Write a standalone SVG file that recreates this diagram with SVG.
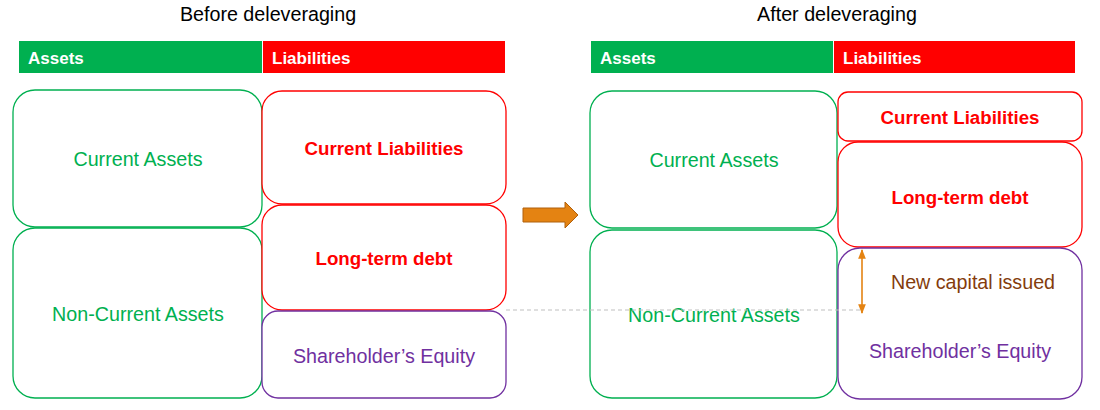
<svg xmlns="http://www.w3.org/2000/svg" width="1100" height="410" viewBox="0 0 1100 410">
<style>
  text { font-family: "Liberation Sans", Arial, sans-serif; }
  .title { font-size: 19.7px; fill: #000; text-anchor: middle; }
  .hdr { font-size: 17px; font-weight: bold; fill: #fff; }
  .box { fill: #fff; stroke-width: 1.3; }
  .g { stroke: #00B050; }
  .r { stroke: #FF0000; }
  .p { stroke: #7030A0; }
  .lbl { font-size: 19.7px; text-anchor: middle; }
  .tg { fill: #00B050; }
  .tr { fill: #FF0000; font-weight: bold; font-size: 18.7px; }
  .tp { fill: #7030A0; }
  .tb { fill: #843C0C; }
</style>
<defs>
  <marker id="ah" viewBox="0 0 10 10" refX="9" refY="5" markerWidth="6" markerHeight="6" orient="auto-start-reverse">
    <path d="M0,1 L10,5 L0,9 z" fill="#E48312"/>
  </marker>
</defs>
<rect width="1100" height="410" fill="#fff"/>

<text class="title" x="268" y="21">Before deleveraging</text>
<text class="title" x="837" y="21">After deleveraging</text>

<g id="hdr-left">
  <rect x="19" y="41" width="243" height="32" fill="#00B050"/>
  <rect x="263" y="41" width="242" height="32" fill="#FF0000"/>
  <text class="hdr" x="28" y="64">Assets</text>
  <text class="hdr" x="272" y="64">Liabilities</text>
</g>
<g id="hdr-right">
  <rect x="591" y="41" width="242" height="32" fill="#00B050"/>
  <rect x="834" y="41" width="241" height="32" fill="#FF0000"/>
  <text class="hdr" x="600" y="64">Assets</text>
  <text class="hdr" x="843" y="64">Liabilities</text>
</g>

<g id="left-current-assets">
  <rect class="box g" x="13" y="90" width="249" height="137" rx="22"/>
  <text class="lbl tg" x="138" y="166">Current Assets</text>
</g>
<g id="left-noncurrent-assets">
  <rect class="box g" x="13" y="228" width="249" height="170" rx="22"/>
  <text class="lbl tg" x="138" y="321">Non-Current Assets</text>
</g>
<g id="left-current-liabilities">
  <rect class="box r" x="262" y="91" width="244" height="113" rx="20"/>
  <text class="lbl tr" x="384" y="155">Current Liabilities</text>
</g>
<g id="left-longterm-debt">
  <rect class="box r" x="262" y="205" width="244" height="105" rx="20"/>
  <text class="lbl tr" x="384" y="265">Long-term debt</text>
</g>
<g id="left-equity">
  <rect class="box p" x="262" y="311" width="244" height="87" rx="16"/>
  <text class="lbl tp" x="384" y="363">Shareholder’s Equity</text>
</g>

<g id="transition-arrow">
  <path d="M523,208 L565,208 L565,202 L578,215 L565,228 L565,222 L523,222 z" fill="#E48312" stroke="#B0600C" stroke-width="1"/>
</g>

<g id="right-current-assets">
  <rect class="box g" x="590" y="91" width="247" height="137" rx="22"/>
  <text class="lbl tg" x="714" y="167">Current Assets</text>
</g>
<g id="right-noncurrent-assets">
  <rect class="box g" x="590" y="230" width="247" height="168" rx="22"/>
  <text class="lbl tg" x="714" y="322">Non-Current Assets</text>
</g>
<g id="right-current-liabilities">
  <rect class="box r" x="838" y="92" width="244" height="49" rx="10"/>
  <text class="lbl tr" x="960" y="124">Current Liabilities</text>
</g>
<g id="right-longterm-debt">
  <rect class="box r" x="838" y="142" width="244" height="105" rx="20"/>
  <text class="lbl tr" x="960" y="204">Long-term debt</text>
</g>
<g id="right-equity">
  <rect class="box p" x="838" y="248" width="244" height="151" rx="22"/>
  <text class="lbl tp" x="960" y="358">Shareholder’s Equity</text>
</g>

<g id="connectors">
  <line x1="506" y1="310" x2="862" y2="310" stroke="#BFBFBF" stroke-width="1.2" stroke-dasharray="4 3"/>
  <line x1="862" y1="250" x2="862" y2="313" stroke="#E48312" stroke-width="1.6" marker-start="url(#ah)" marker-end="url(#ah)"/>
</g>

<g id="new-capital-label">
  <text class="lbl tb" x="973" y="289">New capital issued</text>
</g>
</svg>
